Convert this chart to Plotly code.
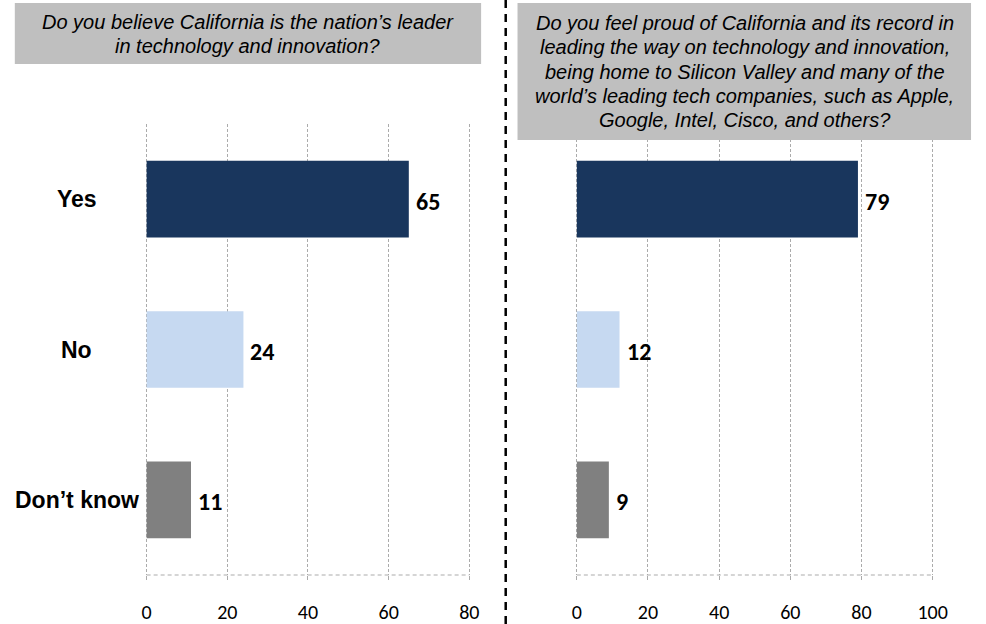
import plotly.graph_objects as go

categories = ["Yes", "No", "Don’t know"]
left_values = [65, 24, 11]
right_values = [79, 12, 9]
bar_colors = ["#19365D", "#C6D9F1", "#808080"]
left_ticks = [0, 20, 40, 60, 80]
right_ticks = [0, 20, 40, 60, 80, 100]
left_title_lines = ["Do you believe California is the nation’s leader",
                    "in technology and innovation?"]
right_title_lines = ["Do you feel proud of California and its record in",
                     "leading the way on technology and innovation,",
                     "being home to Silicon Valley and many of the",
                     "world’s leading tech companies, such as Apple,",
                     "Google, Intel, Cisco, and others?"]

W, H = 986, 624
NUM_FONT = "Carlito, Lato, 'Open Sans', sans-serif"
ARIAL = "Arial, 'Liberation Sans', sans-serif"
GRID = "#ABABAB"

fig = go.Figure()
fig.add_trace(go.Bar(y=categories, x=left_values, orientation="h",
                     marker=dict(color=bar_colors, line=dict(width=0)),
                     width=0.51, xaxis="x", yaxis="y", showlegend=False,
                     hoverinfo="x"))
fig.add_trace(go.Bar(y=categories, x=right_values, orientation="h",
                     marker=dict(color=bar_colors, line=dict(width=0)),
                     width=0.51, xaxis="x2", yaxis="y2", showlegend=False,
                     hoverinfo="x"))

ydom = [1 - 575 / H, 1 - 124 / H]

lpx = (474 - 146) / 80.0
rpx = (945 - 583.3) / 100.0
pad = 0.6


def xax(domain, rng, ticks, anchor):
    return dict(domain=domain, range=rng, tickvals=ticks, anchor=anchor,
                showgrid=True, gridcolor=GRID, griddash="3px,2px", gridwidth=1,
                zeroline=False, showline=False,
                ticks="outside", ticklen=4, tickcolor=GRID, tickwidth=1,
                ticklabelstandoff=15,
                tickfont=dict(family=NUM_FONT, size=20, color="#000000"),
                fixedrange=True)


def yax(anchor):
    return dict(domain=ydom, categoryorder="array", categoryarray=categories,
                autorange="reversed", showticklabels=False, showgrid=False,
                zeroline=False, showline=False, anchor=anchor, fixedrange=True)


layout = dict(
    width=W, height=H, margin=dict(l=0, r=0, t=0, b=0),
    paper_bgcolor="white", plot_bgcolor="white",
    xaxis=xax([(146 - pad * lpx) / W, (474 + pad * lpx) / W],
              [-pad, 80 + pad], left_ticks, "y"),
    xaxis2=xax([(583.3 - pad * rpx) / W, (945 + pad * rpx) / W],
               [-pad, 100 + pad], right_ticks, "y2"),
    yaxis=yax("x"), yaxis2=yax("x2"),
)
fig.update_layout(**layout)

shapes = []
for xr, yr, ticks in (("x", "y domain", left_ticks), ("x2", "y2 domain", right_ticks)):
    shapes.append(dict(type="line", xref=xr, yref=yr, x0=ticks[0], x1=ticks[-1],
                       y0=0, y1=0, line=dict(color=GRID, width=1, dash="4px,3px"),
                       layer="above"))
shapes.append(dict(type="rect", xref="paper", yref="paper", x0=12 / W, x1=486 / W,
                   y0=1 - 64 / H, y1=1 - 3 / H, fillcolor="#BFBFBF",
                   line=dict(width=0), layer="above"))
shapes.append(dict(type="rect", xref="paper", yref="paper", x0=523 / W, x1=984 / W,
                   y0=1 - 140 / H, y1=1 - 3 / H, fillcolor="#BFBFBF",
                   line=dict(width=0), layer="above"))
shapes.append(dict(type="line", xref="paper", yref="paper", x0=511 / W, x1=511 / W,
                   y0=0, y1=1, line=dict(color="black", width=2.5, dash="8px,6px"),
                   layer="above"))
fig.update_layout(shapes=shapes)

ann = []
TITLE_FONT = dict(family=ARIAL, size=20, color="#000000", style="italic")
LH = 24.3
for i, line in enumerate(left_title_lines):
    ann.append(dict(xref="paper", yref="paper", x=249 / W, y=1 - (22 + i * LH) / H,
                    text=line, showarrow=False, xanchor="center", yanchor="middle",
                    font=TITLE_FONT))
for i, line in enumerate(right_title_lines):
    ann.append(dict(xref="paper", yref="paper", x=754 / W, y=1 - (23 + i * LH) / H,
                    text=line, showarrow=False, xanchor="center", yanchor="middle",
                    font=TITLE_FONT))
for c in categories:
    ann.append(dict(xref="paper", yref="y", x=75 / W, y=c, text="<b>%s</b>" % c,
                    showarrow=False, xanchor="center", yanchor="middle",
                    font=dict(family=ARIAL, size=23, color="#000000")))
for xr, yr, vals in (("x", "y", left_values), ("x2", "y2", right_values)):
    for c, v in zip(categories, vals):
        ann.append(dict(xref=xr, yref=yr, x=v, y=c, text="<b>%d</b>" % v,
                        showarrow=False, xanchor="left", yanchor="middle",
                        xshift=5, yshift=-2,
                        font=dict(family=NUM_FONT, size=24, color="#000000")))
fig.update_layout(annotations=ann)

fig.write_html("out.html",
               config={"displayModeBar": False},
               post_script="document.documentElement.style.margin='0';"
                           "document.documentElement.style.overflow='hidden';"
                           "document.body.style.margin='0';"
                           "document.body.style.overflow='hidden';")
